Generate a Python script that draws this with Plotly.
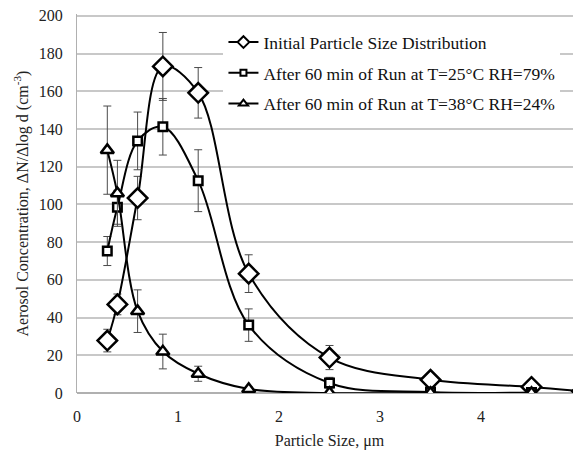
import plotly.graph_objects as go

x_size = [0.3, 0.4, 0.6, 0.85, 1.2, 1.7, 2.5, 3.5, 4.5, 5.0]

initial_vals = [27.8, 47.0, 103.4, 173.2, 159.2, 63.3, 18.8, 7.0, 3.2, 0.9]
initial_err = [6.0, 5.5, 11.5, 18.0, 13.4, 10.0, 6.4, 1.5, 1.0, 0.5]

run25_x = [0.3, 0.4, 0.6, 0.85, 1.2, 1.7, 2.5, 3.5, 4.5]
run25_vals = [75.3, 98.5, 133.7, 141.2, 112.6, 36.0, 5.3, 0.5, 0.3]
run25_err = [7.7, 9.0, 15.3, 15.0, 16.4, 8.6, 3.0, 0.5, 0.3]

run38_x = [0.3, 0.4, 0.6, 0.85, 1.2, 1.7, 2.5, 3.5, 4.5]
run38_vals = [128.8, 105.9, 43.4, 22.0, 10.2, 2.1, 0.0, 0.0, 0.0]
run38_err = [23.4, 17.5, 11.3, 9.2, 4.0, 1.0, 0.5, 0.0, 0.0]

names = [
    "Initial Particle Size Distribution",
    "After 60 min of Run at T=25°C RH=79%",
    "After 60 min of Run at T=38°C RH=24%",
]

y_ticks = [0, 20, 40, 60, 80, 100, 120, 140, 160, 180, 200]
x_ticks = [0, 1, 2, 3, 4, 5]

y_title = "Aerosol Concentration, ΔN/Δlog d (cm<sup>-3</sup>)"
x_title = "Particle Size, μm"

FONT = "Liberation Serif, Times New Roman, serif"

fig = go.Figure()

series = [
    (x_size, initial_vals, initial_err, "diamond", 15, 9, names[0]),
    (run25_x, run25_vals, run25_err, "square", 8.5, 6, names[1]),
    (run38_x, run38_vals, run38_err, "triangle-up", 11.5, 8, names[2]),
]

for i, (xs, ys, es, sym, sz, lsz, nm) in enumerate(series):
    fig.add_trace(go.Scatter(
        x=xs, y=ys, name=nm, mode="lines+markers", showlegend=False,
        line=dict(color="black", width=2, shape="spline", smoothing=1.0),
        marker=dict(symbol=sym, size=sz, color="white",
                    line=dict(color="black", width=2.5)),
        error_y=dict(type="data", array=es, visible=True,
                     color="#4a4a4a", thickness=1, width=4),
    ))

for i, (xs, ys, es, sym, sz, lsz, nm) in enumerate(series):
    fig.add_trace(go.Scatter(
        x=[None], y=[None], name=nm, mode="lines+markers",
        legendgroup=f"g{i}",
        line=dict(color="black", width=2),
        marker=dict(symbol=sym, size=lsz, color="white",
                    line=dict(color="black", width=2)),
    ))

fig.add_annotation(
    text=y_title, xref="paper", yref="paper", x=-0.109, y=0.5,
    xanchor="center", yanchor="middle", textangle=-90, showarrow=False,
    font=dict(family=FONT, size=16, color="#222222"),
)

# top gridline (at the top tick value) drawn explicitly
fig.add_shape(
    type="line", xref="paper", yref="y", x0=0, x1=1,
    y0=y_ticks[-1], y1=y_ticks[-1], layer="below",
    line=dict(color="#c8c8c8", width=1.5),
)

fig.update_layout(
    width=574, height=442,
    margin=dict(l=69, r=0, t=6, b=57),
    paper_bgcolor="white", plot_bgcolor="white",
    font=dict(family=FONT, size=15, color="#222222"),
    showlegend=True,
    legend=dict(
        x=0.29, y=0.973, xanchor="left", yanchor="top",
        bgcolor="white", borderwidth=0,
        font=dict(family=FONT, size=17.5, color="#111111"),
        tracegroupgap=5,
    ),
    xaxis=dict(
        range=[0, 5.0], tickvals=x_ticks, ticktext=[str(t) for t in x_ticks],
        showgrid=False, zeroline=False, showline=False,
        ticks="outside", ticklen=9, tickcolor="rgba(0,0,0,0)",
        automargin=False, ticklabeloverflow="allow",
        tickfont=dict(family=FONT, size=16, color="#222222"),
        title=dict(text=x_title, standoff=22,
                   font=dict(family=FONT, size=16, color="#222222")),
    ),
    yaxis=dict(
        range=[0, 201], tickvals=y_ticks, showgrid=True, gridcolor="#c8c8c8",
        gridwidth=1.5, zeroline=True, zerolinecolor="#b0b0b0", zerolinewidth=1.5,
        showline=True, linecolor="#b0b0b0", linewidth=1.2, ticks="outside",
        ticklen=10, tickcolor="rgba(0,0,0,0)", automargin=False,
        ticklabeloverflow="allow",
        tickfont=dict(family=FONT, size=16, color="#222222"),
    ),
)

fig.write_html("out.html")
